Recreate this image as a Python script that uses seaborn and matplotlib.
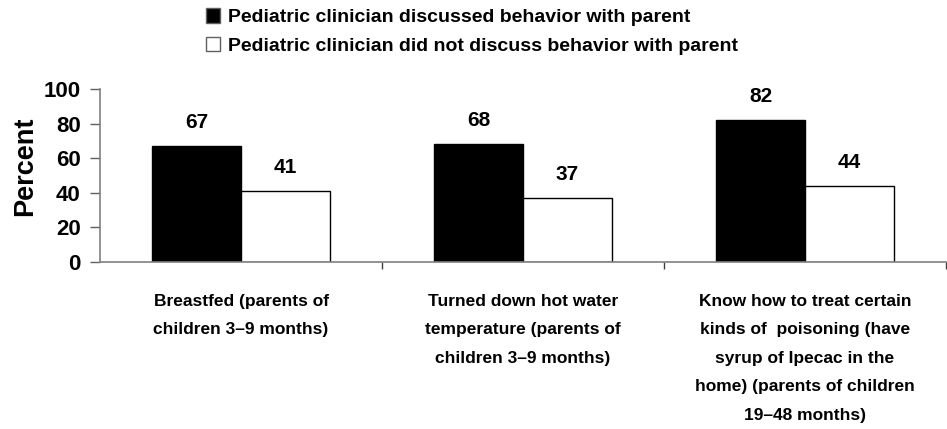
# -*- coding: utf-8 -*-
import pandas as pd
import numpy as np
import matplotlib
matplotlib.use("Agg")
import matplotlib.pyplot as plt
import seaborn as sns
from matplotlib.ticker import FixedLocator

sns.set_style("white")
plt.rcParams['font.family'] = ['Liberation Sans', 'DejaVu Sans']
plt.rcParams['font.weight'] = 'bold'
plt.rcParams['text.color'] = 'black'
plt.rcParams['axes.labelcolor'] = 'black'
plt.rcParams['xtick.color'] = 'black'
plt.rcParams['ytick.color'] = 'black'

# data
categories = [
    "Breastfed (parents of\nchildren 3\u20139 months)",
    "Turned down hot water\ntemperature (parents of\nchildren 3\u20139 months)",
    "Know how to treat certain\nkinds of  poisoning (have\nsyrup of Ipecac in the\nhome) (parents of children\n19\u201348 months)",
]
series = [
    "Pediatric clinician discussed behavior with parent",
    "Pediatric clinician did not discuss behavior with parent",
]
discussed = [67, 68, 82]
not_discussed = [41, 37, 44]

df = pd.DataFrame({
    "cat": categories * 2,
    "group": [series[0]] * 3 + [series[1]] * 3,
    "pct": discussed + not_discussed,
})

fig = plt.figure(figsize=(9.47, 4.29), dpi=100)
ax = fig.add_axes([100 / 947, 1 - 262 / 429, 846 / 947, 173 / 429])

sns.barplot(data=df, x="cat", y="pct", hue="group", hue_order=series,
            palette=["black", "white"], edgecolor="black", linewidth=1,
            width=0.63, gap=0, ax=ax)

for cont in ax.containers:
    ax.bar_label(cont, fmt="%d", padding=10, fontsize=15, fontweight="bold",
                 color="black")

ax.set_xlim(-0.5, 2.5)
ax.set_ylim(0, 100)
ax.set_yticks([0, 20, 40, 60, 80, 100])
ax.set_ylabel("Percent", fontsize=19.5, fontweight="bold", labelpad=4)
ax.yaxis.label.set_y(0.555)
ax.set_xlabel("")
for t in ax.get_yticklabels():
    t.set_fontsize(16)
    t.set_fontweight("bold")
ax.tick_params(axis="y", length=7, width=1, color="#606060", pad=7, left=True)
ax.tick_params(axis="x", which="major", length=0, pad=23)
ax.xaxis.set_minor_locator(FixedLocator([0.5, 1.5, 2.5]))
ax.tick_params(axis="x", which="minor", length=5, width=1, color="#404040", bottom=True)

for t in ax.get_xticklabels():
    t.set_fontsize(12.5)
    t.set_fontweight("bold")
    t.set_linespacing(2.12)
    t.set_horizontalalignment("center")

sns.despine(ax=ax)
for s in ["left", "bottom"]:
    ax.spines[s].set_color("#808080")
    ax.spines[s].set_linewidth(1.2)

sns.move_legend(ax, loc="upper left", bbox_to_anchor=(188 / 947, 1.021),
                bbox_transform=fig.transFigure, frameon=False, title=None,
                fontsize=14, handlelength=0.75, handleheight=0.75,
                handletextpad=0.4, labelspacing=0.55)
leg = ax.get_legend()
for t in leg.get_texts():
    t.set_fontweight("bold")
    t.set_color("black")
for h in leg.legend_handles:
    h.set_edgecolor("#606060")

fig.savefig("out.png", dpi=100)
